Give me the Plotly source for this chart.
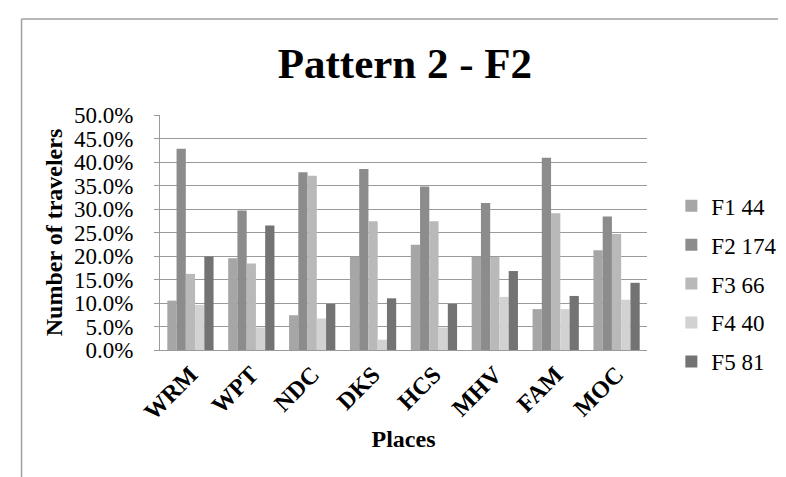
import plotly.graph_objects as go

places = ["WRM", "WPT", "NDC", "DKS", "HCS", "MHV", "FAM", "MOC"]
series_names = ["F1 44", "F2 174", "F3 66", "F4 40", "F5 81"]
f1 = [10.5, 19.5, 7.4, 19.8, 22.4, 19.8, 8.7, 21.2]
f2 = [42.8, 29.7, 37.8, 38.5, 34.8, 31.3, 40.9, 28.4]
f3 = [16.2, 18.4, 37.1, 27.4, 27.4, 19.8, 29.1, 24.7]
f4 = [9.6, 4.8, 6.7, 2.2, 4.8, 11.3, 8.7, 10.7]
f5 = [19.9, 26.5, 9.8, 11.0, 9.8, 16.8, 11.5, 14.3]
series_values = [f1, f2, f3, f4, f5]
colors = ["#a6a6a6", "#8c8c8c", "#b9b9b9", "#d2d2d2", "#737373"]
y_ticks = [0, 5, 10, 15, 20, 25, 30, 35, 40, 45, 50]
y_tick_text = [f"{v:.1f}%" for v in y_ticks]

FONT = "Liberation Serif"

fig = go.Figure()
for i, (name, vals) in enumerate(zip(series_names, series_values)):
    fig.add_trace(go.Bar(
        x=places, y=vals, name=name,
        marker=dict(color=colors[i], line=dict(width=0)),
        legendgroup=f"g{i}",
    ))

fig.update_layout(
    width=786, height=477,
    paper_bgcolor="white", plot_bgcolor="white",
    margin=dict(l=152, r=131, t=107, b=135),
    barmode="group", bargap=0.24, bargroupgap=0,
    font=dict(family=FONT, color="black", size=20),
    title=dict(text="<b>Pattern 2 - F2</b>", x=0.505, xanchor="center",
               y=0.885, yanchor="middle",
               font=dict(family=FONT, size=43, color="black")),
    legend=dict(x=1.05, xanchor="left", y=0.705, yanchor="top",
                font=dict(family=FONT, size=23, color="black"),
                tracegroupgap=6, itemwidth=30, bgcolor="rgba(0,0,0,0)"),
    showlegend=True,
)
fig.update_xaxes(
    tickangle=-45, tickfont=dict(family=FONT, size=24, color="black"),
    tickprefix="<b>", ticksuffix="</b>",
    showline=True, linecolor="#9a9a9a", linewidth=1,
    showgrid=False, ticks="",
    title=dict(text="<b>Places</b>", font=dict(family=FONT, size=24, color="black"), standoff=6),
)
fig.update_yaxes(
    range=[0, 50], tickvals=y_ticks, ticktext=y_tick_text,
    tickfont=dict(family=FONT, size=23, color="black"),
    showline=True, linecolor="#9a9a9a", linewidth=1,
    showgrid=True, gridcolor="#9a9a9a", gridwidth=1,
    ticks="outside", ticklen=5, tickcolor="#9a9a9a",
    ticklabelstandoff=16,
    zeroline=False,
    title=dict(text="<b>Number of travelers</b>", font=dict(family=FONT, size=24, color="black"), standoff=4),
)

# partial chart frame (top and left edges)
fig.add_shape(type="line", xref="paper", yref="paper",
              x0=-0.2843, y0=1.4085, x1=1.27, y1=1.4085,
              line=dict(color="#a0a0a0", width=1.5))
fig.add_shape(type="line", xref="paper", yref="paper",
              x0=-0.2843, y0=1.4085, x1=-0.2843, y1=-0.58,
              line=dict(color="#a0a0a0", width=1.5))

fig.write_html("out.html")
